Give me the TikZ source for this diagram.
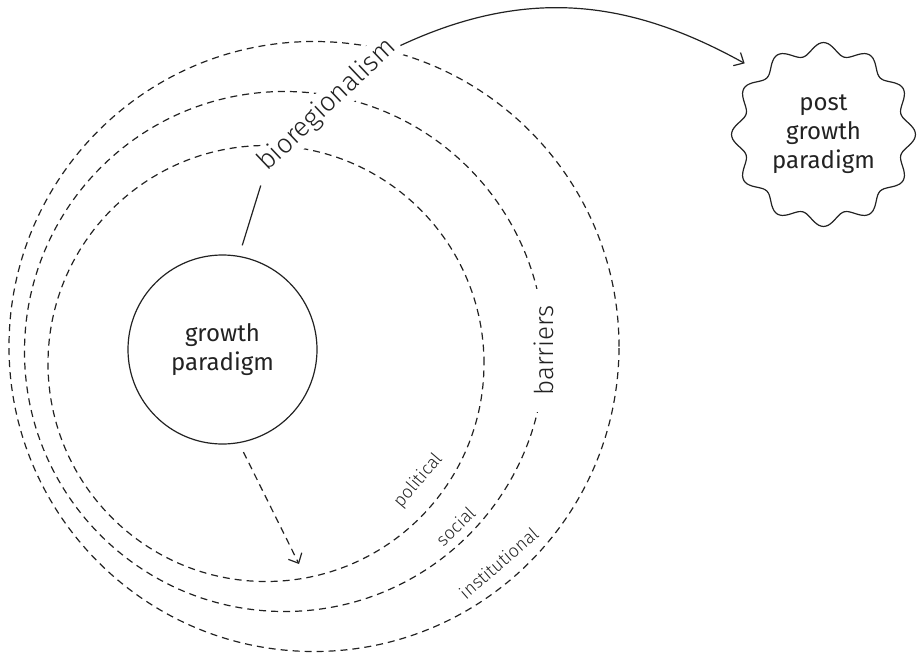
\documentclass[tikz,border=0pt]{standalone}
\usepackage{fontspec}
\setmainfont{Fira Sans}
\newfontfamily\thinfont{Fira Sans Light}
\usepackage{tikz}
\usetikzlibrary{positioning}
\usetikzlibrary{arrows.meta}
\definecolor{ink}{HTML}{222222}

\begin{document}
\begin{tikzpicture}[x=1pt,y=-1pt,line width=1.2pt,
  ring/.style={circle,draw=ink,dash pattern=on 7pt off 5pt},
  lbl/.style={font=\thinfont\fontsize{18}{20}\selectfont,text=ink,inner sep=0pt},
  bigtext/.style={font=\thinfont\fontsize{27}{30}\selectfont,text=ink,fill=white},
  arrowtip/.style={-{Straight Barb[length=8pt,width=15pt]}}]
\useasboundingbox (0,0) rectangle (918,656);

\node[ring,minimum size=610pt] (outer) at (314,346.5) {};
\node[ring,minimum size=520pt] (middle) at (284.5,351.5) {};
\node[ring,minimum size=436pt] (inner) at (266,363.5) {};

\node[circle,draw=ink,minimum size=189pt,align=center,text=ink,
      font=\fontsize{24}{29}\selectfont] (growth) at (222.5,349.5) {growth\\paradigm};

\node[circle,minimum size=184pt,align=center,text=ink,
      font=\fontsize{24}{29}\selectfont] (post) at (823.5,134.5) {post\\growth\\paradigm};
\draw[ink,shift={(post.center)}] plot[domain=0:357,samples=120,smooth cycle]
      ({(86+6*cos(12*\x))*cos(\x)},{(86+6*cos(12*\x))*sin(\x)});

\node[bigtext,rotate=43.5,anchor=base west,inner xsep=4pt,inner ysep=3pt] (bio) at (264,175) {bioregionalism};
\node[bigtext,font=\thinfont\fontsize{26}{30}\selectfont,rotate=90,anchor=base,
      inner xsep=16pt,inner ysep=3pt] (bar) at (553,350.5) {barriers};

\node[lbl,rotate=49.5,anchor=base] (pol) at (422,484) {political};
\node[lbl,rotate=44,anchor=base] (soc) at (460,531) {social};
\node[lbl,rotate=41,anchor=base] (inst) at (503,568) {institutional};

\draw[ink,shorten <=11pt,shorten >=11pt] (growth.80) -- (bio.base west);
\draw[ink,arrowtip,shorten >=14pt] (bio.base east) to[out=25,in=151,looseness=1.02] (post.136);

\coordinate (drop) at (299,564);
\draw[ink,arrowtip,dash pattern=on 7pt off 5pt,shorten <=10pt] (growth.-80) -- (drop);
\end{tikzpicture}
\end{document}
